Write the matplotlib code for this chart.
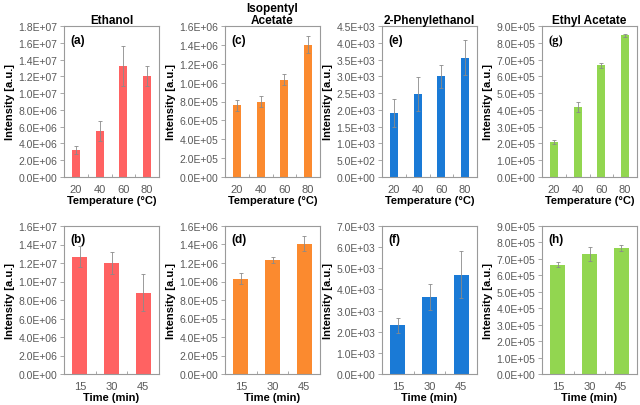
"""Eight-panel bar chart: aroma compound intensity vs temperature and time."""
import matplotlib

matplotlib.use("Agg")

import matplotlib.pyplot as plt
from matplotlib.ticker import FuncFormatter, FixedLocator

plt.rcParams["font.family"] = ["Liberation Sans", "DejaVu Sans"]

TEMPS = ["20", "40", "60", "80"]
TIMES = ["15", "30", "45"]

# temperature series (top row)
ETHANOL_T = [3.2e6, 5.5e6, 13.2e6, 12.0e6]
ETHANOL_T_ERR = [0.5e6, 1.2e6, 2.4e6, 1.2e6]
ISOPENTYL_T = [7.6e5, 8.0e5, 1.03e6, 1.40e6]
ISOPENTYL_T_ERR = [0.6e5, 0.6e5, 0.6e5, 0.9e5]
PHENYL_T = [1.9e3, 2.48e3, 3.0e3, 3.55e3]
PHENYL_T_ERR = [0.42e3, 0.5e3, 0.35e3, 0.52e3]
ETHYL_T = [2.1e5, 4.2e5, 6.65e5, 8.45e5]
ETHYL_T_ERR = [0.12e5, 0.3e5, 0.15e5, 0.1e5]

# time series (bottom row)
ETHANOL_M = [12.7e6, 12.0e6, 8.8e6]
ETHANOL_M_ERR = [1.1e6, 1.2e6, 2.0e6]
ISOPENTYL_M = [1.03e6, 1.23e6, 1.41e6]
ISOPENTYL_M_ERR = [0.06e6, 0.03e6, 0.08e6]
PHENYL_M = [2.3e3, 3.65e3, 4.7e3]
PHENYL_M_ERR = [0.37e3, 0.62e3, 1.12e3]
ETHYL_M = [6.65e5, 7.3e5, 7.65e5]
ETHYL_M_ERR = [0.15e5, 0.45e5, 0.2e5]

TITLES = ["Ethanol", "Isopentyl\nAcetate", "2-Phenylethanol", "Ethyl Acetate"]
COLORS = ["#ff6262", "#fb8a2f", "#1a7ad6", "#92d650"]
YMAX_T = [1.8e7, 1.6e6, 4.5e3, 9.0e5]
YSTEP_T = [2e6, 2e5, 5e2, 1e5]
YMAX_M = [1.6e7, 1.6e6, 7.0e3, 9.0e5]
YSTEP_M = [2e6, 2e5, 1e3, 1e5]

TICK = "#595959"
FRAME = "#9a9a9a"

LEFTS = [64, 225, 382, 542]
W, H = 640, 406


def sci(v, _pos):
    return f"{v:.1E}"


def draw(ax, cats, vals, errs, color, ymax, ystep, letter, xlabel, width, serif=False):
    x = list(range(len(cats)))
    ax.bar(x, vals, width=width, color=color, zorder=2)
    ax.errorbar(x, vals, yerr=errs, fmt="none", ecolor="#8a8a8a",
                elinewidth=0.6, capsize=1.5, capthick=0.6, zorder=3)
    ax.set_xlim(-0.5, len(cats) - 0.5)
    ax.set_ylim(0, ymax)
    n = int(round(ymax / ystep))
    ax.set_yticks([i * ystep for i in range(n + 1)])
    ax.yaxis.set_major_formatter(FuncFormatter(sci))
    ax.set_xticks(x)
    ax.set_xticklabels(cats)
    ax.xaxis.set_minor_locator(FixedLocator([i + 0.5 for i in range(len(cats) - 1)]))
    ax.tick_params(axis="x", which="major", length=0, pad=5, labelsize=8, labelcolor=TICK)
    ax.tick_params(axis="x", which="minor", direction="in", length=2, color=FRAME, width=0.6)
    ax.tick_params(axis="y", direction="out", length=3, color=FRAME, width=0.6,
                   labelsize=7.5, labelcolor=TICK, pad=2)
    for s in ax.spines.values():
        s.set_color(FRAME)
        s.set_linewidth(0.8)
    ax.set_ylabel("Intensity [a.u.]", fontsize=8, fontweight="bold", labelpad=2)
    ax.set_xlabel(xlabel, fontsize=8, fontweight="bold", labelpad=1)
    fam = ["Liberation Serif"] if serif else None
    ax.text(0.07, 0.95, letter, transform=ax.transAxes, ha="left", va="top",
            fontsize=9 if serif else 8.5, fontweight="bold", family=fam)


fig = plt.figure(figsize=(W / 100, H / 100), dpi=100)

top_series = [(ETHANOL_T, ETHANOL_T_ERR), (ISOPENTYL_T, ISOPENTYL_T_ERR),
              (PHENYL_T, PHENYL_T_ERR), (ETHYL_T, ETHYL_T_ERR)]
bot_series = [(ETHANOL_M, ETHANOL_M_ERR), (ISOPENTYL_M, ISOPENTYL_M_ERR),
              (PHENYL_M, PHENYL_M_ERR), (ETHYL_M, ETHYL_M_ERR)]
top_letters = ["(a)", "(c)", "(e)", "(g)"]
bot_letters = ["(b)", "(d)", "(f)", "(h)"]

for i in range(4):
    left = LEFTS[i] / W
    ax = fig.add_axes([left, 1 - 178 / H, 95 / W, 151 / H])
    vals, errs = top_series[i]
    draw(ax, TEMPS, vals, errs, COLORS[i], YMAX_T[i], YSTEP_T[i],
         top_letters[i], "Temperature (°C)", 0.33, serif=(i == 3))
    ax.set_title(TITLES[i], fontsize=8.5, fontweight="bold", pad=2, linespacing=1.0)

    ax = fig.add_axes([left, 1 - 375 / H, 95 / W, 148 / H])
    vals, errs = bot_series[i]
    draw(ax, TIMES, vals, errs, COLORS[i], YMAX_M[i], YSTEP_M[i],
         bot_letters[i], "Time (min)", 0.48)

fig.savefig("out.png", dpi=100)
